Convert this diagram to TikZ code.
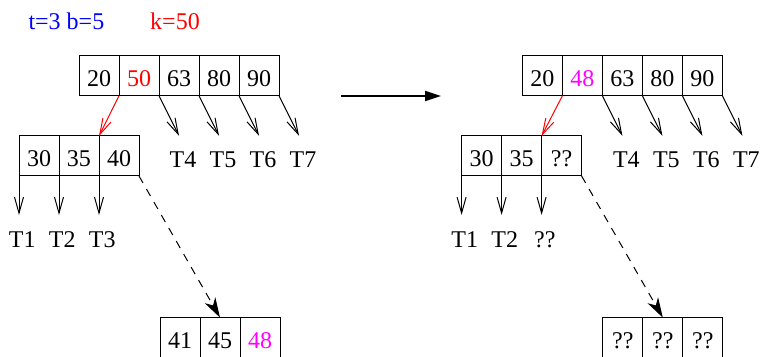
\documentclass[tikz,border=0pt]{standalone}
\usepackage{fontspec}
\setmainfont{Liberation Serif}
\usetikzlibrary{arrows.meta,positioning}
\definecolor{newkey}{RGB}{255,0,255}

\begin{document}
\begin{tikzpicture}[x=20pt,y=20pt,
  cell/.style={rectangle,draw,minimum width=20pt,minimum height=20pt,
               inner sep=0pt,outer sep=0pt,text height=10.5pt,text depth=0pt,
               line width=0.5pt,font=\fontsize{12}{14}\selectfont},
  lbl/.style={inner sep=0pt,font=\fontsize{12}{14}\selectfont},
  ptr/.style={-{Straight Barb[length=8pt,width=4.5pt]},line width=0.5pt},
  link/.style={-{Stealth[length=10pt,width=6pt,inset=3pt]},line width=0.5pt,
               dash pattern=on 4pt off 3.5pt},
  move/.style={-{Triangle[length=8pt,width=5pt]},line width=1pt},
]
  \useasboundingbox (0,0) rectangle (19.05,8.925);

  % Parameters
  \node[lbl,blue] (par) at (1.66,8.38) {t=3 b=5};
  \node[lbl,red]  (key) at (4.375,8.38) {k=50};

  % Before: root
  \node[cell] (top1) at (2.475,7.03) {20};
  \node[cell,right=0pt of top1,text=red] (top2) {50};
  \node[cell,right=0pt of top2] (top3) {63};
  \node[cell,right=0pt of top3] (top4) {80};
  \node[cell,right=0pt of top4] (top5) {90};

  % Before: child and its right neighbour
  \node[cell] (mid1) at (0.975,5.025) {30};
  \node[cell,right=0pt of mid1] (mid2) {35};
  \node[cell,right=0pt of mid2] (mid3) {40};
  \node[cell] (low1) at (4.5,0.485) {41};
  \node[cell,right=0pt of low1] (low2) {45};
  \node[cell,right=0pt of low2,text=newkey] (low3) {48};

  % Before: subtrees
  \coordinate (p4) at ([shift={(0.5,-1)}]top2.south east);
  \coordinate (p5) at ([shift={(0.5,-1)}]top3.south east);
  \coordinate (p6) at ([shift={(0.5,-1)}]top4.south east);
  \coordinate (p7) at ([shift={(0.5,-1)}]top5.south east);
  \coordinate (q1) at ([shift={(0,-0.975)}]mid1.south west);
  \coordinate (q2) at ([shift={(0,-0.975)}]mid1.south east);
  \coordinate (q3) at ([shift={(0,-0.975)}]mid2.south east);
  \node[lbl] (t4) at ([shift={(0.1,-0.59)}]p4) {T4};
  \node[lbl] (t5) at ([shift={(0.1,-0.59)}]p5) {T5};
  \node[lbl] (t6) at ([shift={(0.1,-0.59)}]p6) {T6};
  \node[lbl] (t7) at ([shift={(0.1,-0.59)}]p7) {T7};
  \node[lbl] (t1) at ([shift={(0.08,-0.625)}]q1) {T1};
  \node[lbl] (t2) at ([shift={(0.08,-0.625)}]q2) {T2};
  \node[lbl] (t3) at ([shift={(0.08,-0.625)}]q3) {T3};

  % Before: pointers
  \draw[ptr,red] (top1.south east) -- (mid2.north east);
  \draw[ptr] (top2.south east) -- (p4);
  \draw[ptr] (top3.south east) -- (p5);
  \draw[ptr] (top4.south east) -- (p6);
  \draw[ptr] (top5.south east) -- (p7);
  \draw[ptr] (mid1.south west) -- (q1);
  \draw[ptr] (mid1.south east) -- (q2);
  \draw[ptr] (mid2.south east) -- (q3);
  \draw[link] (mid3.south east) -- (low2.north);

  % Step
  \coordinate (go) at (8.525,6.525);
  \coordinate (gone) at (11.025,6.525);
  \draw[move] (go) -- (gone);

  % After: root
  \node[cell] (ntop1) at (13.56,7.03) {20};
  \node[cell,right=0pt of ntop1,text=newkey] (ntop2) {48};
  \node[cell,right=0pt of ntop2] (ntop3) {63};
  \node[cell,right=0pt of ntop3] (ntop4) {80};
  \node[cell,right=0pt of ntop4] (ntop5) {90};

  % After: child and its right neighbour
  \node[cell] (nmid1) at (12.04,5.025) {30};
  \node[cell,right=0pt of nmid1] (nmid2) {35};
  \node[cell,right=0pt of nmid2] (nmid3) {??};
  \node[cell] (nlow1) at (15.57,0.485) {??};
  \node[cell,right=0pt of nlow1] (nlow2) {??};
  \node[cell,right=0pt of nlow2] (nlow3) {??};

  % After: subtrees
  \coordinate (np4) at ([shift={(0.5,-1)}]ntop2.south east);
  \coordinate (np5) at ([shift={(0.5,-1)}]ntop3.south east);
  \coordinate (np6) at ([shift={(0.5,-1)}]ntop4.south east);
  \coordinate (np7) at ([shift={(0.5,-1)}]ntop5.south east);
  \coordinate (nq1) at ([shift={(0,-0.975)}]nmid1.south west);
  \coordinate (nq2) at ([shift={(0,-0.975)}]nmid1.south east);
  \coordinate (nq3) at ([shift={(0,-0.975)}]nmid2.south east);
  \node[lbl] (nt4) at ([shift={(0.1,-0.59)}]np4) {T4};
  \node[lbl] (nt5) at ([shift={(0.1,-0.59)}]np5) {T5};
  \node[lbl] (nt6) at ([shift={(0.1,-0.59)}]np6) {T6};
  \node[lbl] (nt7) at ([shift={(0.1,-0.59)}]np7) {T7};
  \node[lbl] (nt1) at ([shift={(0.08,-0.625)}]nq1) {T1};
  \node[lbl] (nt2) at ([shift={(0.08,-0.625)}]nq2) {T2};
  \node[lbl] (nt3) at ([shift={(0.08,-0.625)}]nq3) {??};

  % After: pointers
  \draw[ptr,red] (ntop1.south east) -- (nmid2.north east);
  \draw[ptr] (ntop2.south east) -- (np4);
  \draw[ptr] (ntop3.south east) -- (np5);
  \draw[ptr] (ntop4.south east) -- (np6);
  \draw[ptr] (ntop5.south east) -- (np7);
  \draw[ptr] (nmid1.south west) -- (nq1);
  \draw[ptr] (nmid1.south east) -- (nq2);
  \draw[ptr] (nmid2.south east) -- (nq3);
  \draw[link] (nmid3.south east) -- (nlow2.north);
\end{tikzpicture}
\end{document}
